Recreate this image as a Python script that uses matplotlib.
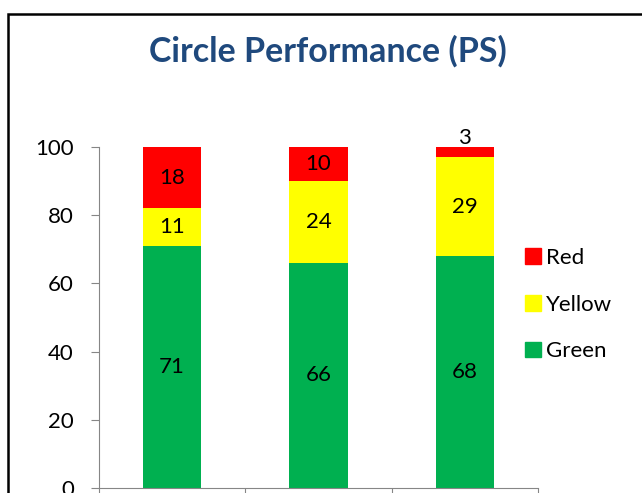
import matplotlib.pyplot as plt
from matplotlib.patches import Rectangle, Patch

# dados
circles = ['C1', 'C2', 'C3']
green = [71, 66, 68]
yellow = [11, 24, 29]
red = [18, 10, 3]

cores = {'Green': '#00B050', 'Yellow': '#FFFF00', 'Red': '#FF0000'}

plt.rcParams['font.family'] = ['Lato', 'DejaVu Sans']

fig = plt.figure(figsize=(6.42, 4.93), dpi=100)
ax = fig.add_axes([99 / 642, 5 / 493, 439 / 642, 341 / 493])

x = list(range(len(circles)))
bottoms = [0] * len(circles)
for nome, vals in [('Green', green), ('Yellow', yellow), ('Red', red)]:
    bars = ax.bar(x, vals, width=0.4, bottom=bottoms, color=cores[nome], label=nome)
    for b, v in zip(bars, vals):
        cy = b.get_y() + b.get_height() / 2
        off = 10 if v < 5 else 0
        ax.annotate(str(v), (b.get_x() + b.get_width() / 2, cy), xytext=(0, off),
                    textcoords='offset points', ha='center', va='center', fontsize=16)
    bottoms = [a + v for a, v in zip(bottoms, vals)]

ax.set_xlim(-0.5, 2.5)
ax.set_ylim(0, 100)
ax.set_yticks(range(0, 101, 20))
ax.set_xticks([-0.5, 0.5, 1.5, 2.5])
ax.set_xticklabels([])
ax.tick_params(axis='y', labelsize=16, length=6, color='#868686', pad=12)
ax.tick_params(axis='x', length=6, color='#868686')
for s in ['top', 'right']:
    ax.spines[s].set_visible(False)
for s in ['left', 'bottom']:
    ax.spines[s].set_color('#868686')

fig.text(328 / 642, 1 - 51 / 493, 'Circle Performance (PS)', ha='center', va='center',
         fontsize=24.5, fontweight='bold', color='#1F497D')

handles = [Patch(color=cores[n]) for n in ['Red', 'Yellow', 'Green']]
fig.legend(handles, ['Red', 'Yellow', 'Green'], loc='upper left',
           bbox_to_anchor=(505 / 642, 1 - 228 / 493), frameon=False, fontsize=16,
           handlelength=0.7, handleheight=0.7, handletextpad=0.25, labelspacing=1.2)

# borda do gráfico
topo = 1 - 14 / 493
fig.patches.append(Rectangle((8 / 642, -0.2), 1.2, topo + 0.2, transform=fig.transFigure,
                             fill=False, edgecolor='black', linewidth=1.8))

plt.savefig('out.png', dpi=100)
